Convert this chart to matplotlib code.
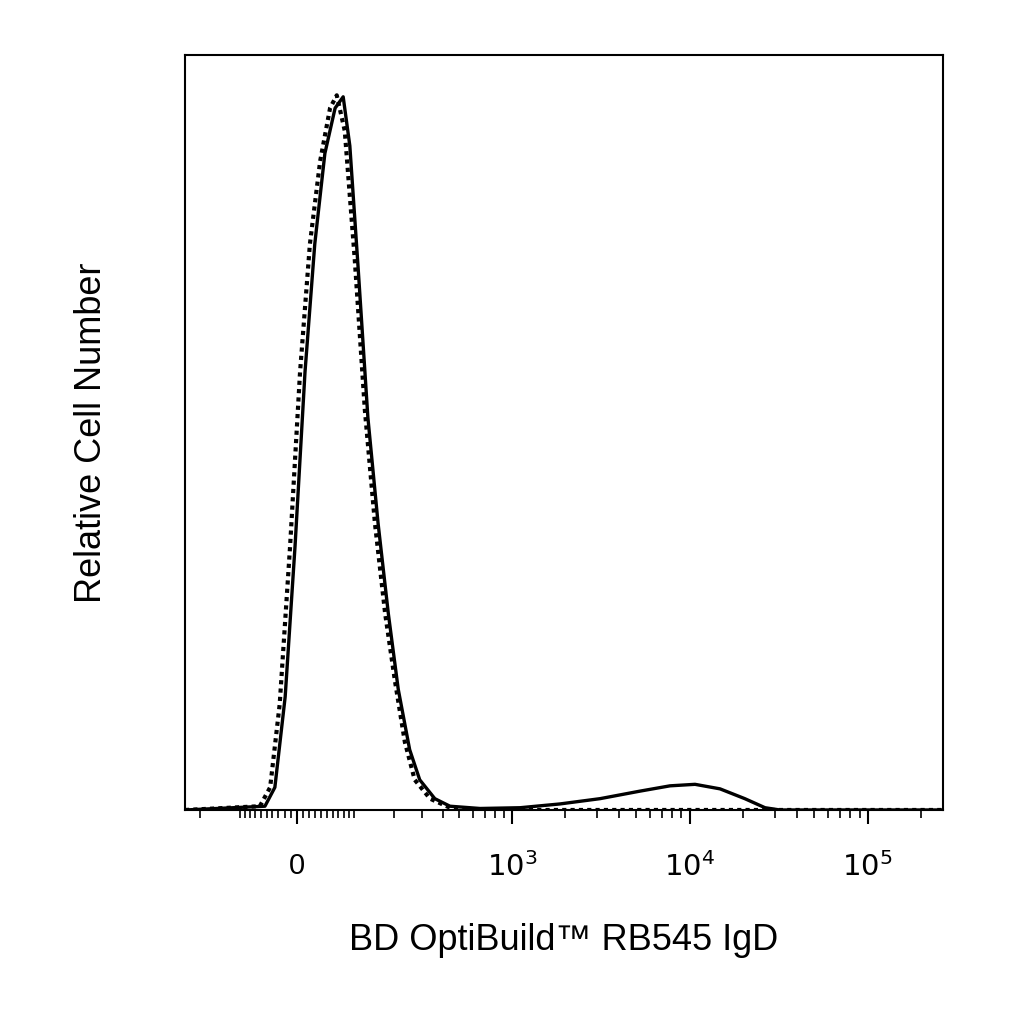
import numpy as np
import matplotlib
matplotlib.use("Agg")
import matplotlib.pyplot as plt

plt.rcParams['font.family'] = ['Liberation Sans', 'DejaVu Sans']

# fluorescence values and relative counts
solid_x = [-250, -53, -36, -19, -3, 13, 29, 46, 64, 79, 92, 109, 131, 156, 184, 214, 253, 292, 360, 442, 659, 1112, 1866, 3137, 5266, 7757, 10720, 14815, 20418, 26519, 32183, 265000]
solid_y = [0, 0.5, 3, 15, 35, 58, 75, 87, 93, 94.5, 88, 72, 52, 38, 26, 16, 8, 4, 1.5, 0.5, 0.2, 0.3, 0.8, 1.5, 2.5, 3.2, 3.4, 2.8, 1.5, 0.3, 0, 0]
dot_x = [-250, -62, -44, -28, -11, 5, 21, 38, 55, 67, 82, 102, 124, 148, 175, 204, 236, 272, 337, 442, 576, 265000]
dot_y = [0, 0.5, 3, 14, 35, 58, 75, 86, 93, 94.7, 90, 73, 53, 38, 26, 17, 9, 4, 1.5, 0.3, 0, 0]
major_ticks = [0, 1e3, 1e4, 1e5]
major_labels = ['0', r'$10^3$', r'$10^4$', r'$10^5$']

C = 124.5
fwd = lambda v: np.arcsinh(np.asarray(v, float) / C)
inv = lambda u: C * np.sinh(np.asarray(u, float))

fig = plt.figure(figsize=(10.24, 10.24), dpi=100)
ax = fig.add_axes([0.1807, 0.209, 0.7402, 0.737])
ax.set_xscale('function', functions=(fwd, inv))
ax.plot(solid_x, solid_y, color='black', lw=2.4)
ax.plot(dot_x, dot_y, color='black', lw=3, ls=(0, (1, 1)))
ax.set_xlim(-250, 265000)
ax.set_ylim(0, 100)
ax.set_yticks([])

minor = [-200, -100, -90, -80, -70, -60, -50, -40, -30, -20, -10,
         10, 20, 30, 40, 50, 60, 70, 80, 90, 100, 200, 300, 400, 500, 600, 700, 800, 900]
minor += [k * 10**e for e in (3, 4) for k in range(2, 10)] + [2e5]
ax.set_xticks(major_ticks)
ax.set_xticklabels(major_labels, fontsize=21)
ax.set_xticks(minor, minor=True)
ax.tick_params(axis='x', which='major', direction='out', length=10, width=1.5, pad=20)
ax.tick_params(axis='x', which='minor', direction='out', length=6, width=1.2)
for s in ax.spines.values():
    s.set_linewidth(1.5)
ax.set_xlabel('BD OptiBuild™ RB545 IgD', fontsize=26, labelpad=30)
ax.set_ylabel('Relative Cell Number', fontsize=26, labelpad=55)
fig.savefig('out.png', dpi=100)
